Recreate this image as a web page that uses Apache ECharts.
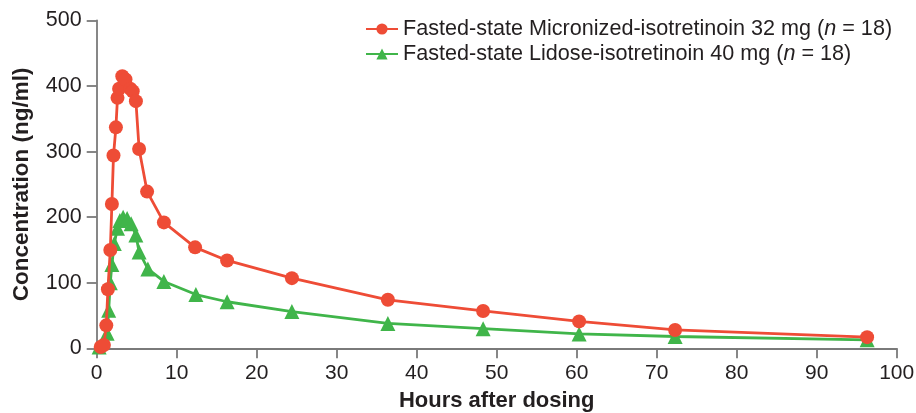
<!DOCTYPE html>
<html><head><meta charset="utf-8">
<script src="https://cdn.jsdelivr.net/npm/echarts@6/dist/echarts.min.js"></script>
<style>html,body{margin:0;padding:0;background:#fff}#c{width:916px;height:413px}</style>
</head><body><div id="c"></div>
<script>
const microHours = [0.5, 0.9, 1.2, 1.4, 1.7, 1.9, 2.1, 2.4, 2.6, 2.8, 3.2, 3.6, 4.2, 4.5, 4.9, 5.3, 6.3, 8.4, 12.3, 16.3, 24.4, 36.4, 48.3, 60.3, 72.3, 96.3];
const microConc  = [2, 5, 35, 90, 150, 220, 294, 337, 382, 396, 415, 410, 396, 392, 377, 304, 239, 192, 154, 134, 107, 74, 57, 41, 28, 17];
const lidoseHours = [0.3, 1.3, 1.5, 1.7, 1.9, 2.2, 2.6, 2.9, 3.3, 3.8, 4.3, 4.9, 5.3, 6.4, 8.4, 12.4, 16.3, 24.4, 36.4, 48.3, 60.3, 72.3, 96.3];
const lidoseConc  = [2, 23, 58, 100, 128, 160, 183, 195, 200, 198, 190, 173, 147, 121, 102, 82, 71, 56, 38, 30, 22, 18, 13];
const xTicks = [0, 10, 20, 30, 40, 50, 60, 70, 80, 90, 100];
const yTicks = [0, 100, 200, 300, 400, 500];
const seriesNames = ['Fasted-state Micronized-isotretinoin 32 mg (n = 18)', 'Fasted-state Lidose-isotretinoin 40 mg (n = 18)'];

const RED = '#EE4C36', GREEN = '#40B54A', AX = '#7a7a7a', TXT = '#231f20';
const FONT = 'Liberation Sans, Arial, sans-serif';
const chart = echarts.init(document.getElementById('c'), null, {renderer: 'canvas'});
const zip = (a, b) => a.map((v, i) => [v, b[i]]);
chart.setOption({
  animation: false,
  backgroundColor: '#fff',
  grid: {left: 96.7, right: 19.3, top: 20.5, bottom: 64.7, containLabel: false, outerBoundsMode: 'none'},
  legend: {
    orient: 'vertical', left: 360, top: 13, itemGap: 3, itemWidth: 32, itemHeight: 14,
    data: seriesNames,
    formatter: function (name) {
      const i = name.indexOf('(n');
      return '{a|' + name.slice(0, i + 1) + '}{i|n}{a|' + name.slice(i + 2) + '}';
    },
    textStyle: {
      fontFamily: FONT, fontSize: 21.6, color: TXT,
      rich: {a: {fontFamily: FONT, fontSize: 21.6, color: TXT}, i: {fontFamily: FONT, fontSize: 21.6, color: TXT, fontStyle: 'italic'}}
    }
  },
  xAxis: {
    type: 'value', min: xTicks[0], max: xTicks[xTicks.length - 1], interval: 10,
    name: 'Hours after dosing', nameLocation: 'middle', nameGap: 42,
    nameTextStyle: {fontFamily: FONT, fontSize: 22, fontWeight: 'bold', color: TXT},
    axisLine: {lineStyle: {color: AX, width: 1.8}},
    axisTick: {length: 10, lineStyle: {color: AX, width: 1.8}},
    axisLabel: {fontFamily: FONT, fontSize: 21, color: TXT, margin: 14},
    splitLine: {show: false}
  },
  yAxis: {
    type: 'value', min: yTicks[0], max: yTicks[yTicks.length - 1], interval: 100,
    name: 'Concentration (ng/ml)', nameLocation: 'middle', nameGap: 63, nameRotate: 90,
    nameTextStyle: {fontFamily: FONT, fontSize: 22.5, fontWeight: 'bold', color: TXT},
    axisLine: {show: true, lineStyle: {color: AX, width: 1.8}},
    axisTick: {show: true, length: 10, lineStyle: {color: AX, width: 1.8}},
    axisLabel: {fontFamily: FONT, fontSize: 21.5, color: TXT, margin: 15},
    splitLine: {show: false}
  },
  series: [
    {
      name: seriesNames[0], type: 'line', data: zip(microHours, microConc),
      symbol: 'circle', symbolSize: 14, z: 3,
      lineStyle: {color: RED, width: 2.8}, itemStyle: {color: RED}
    },
    {
      name: seriesNames[1], type: 'line', data: zip(lidoseHours, lidoseConc),
      symbol: 'triangle', symbolSize: 15, z: 2,
      lineStyle: {color: GREEN, width: 2.8}, itemStyle: {color: GREEN}
    }
  ]
});
</script></body></html>
